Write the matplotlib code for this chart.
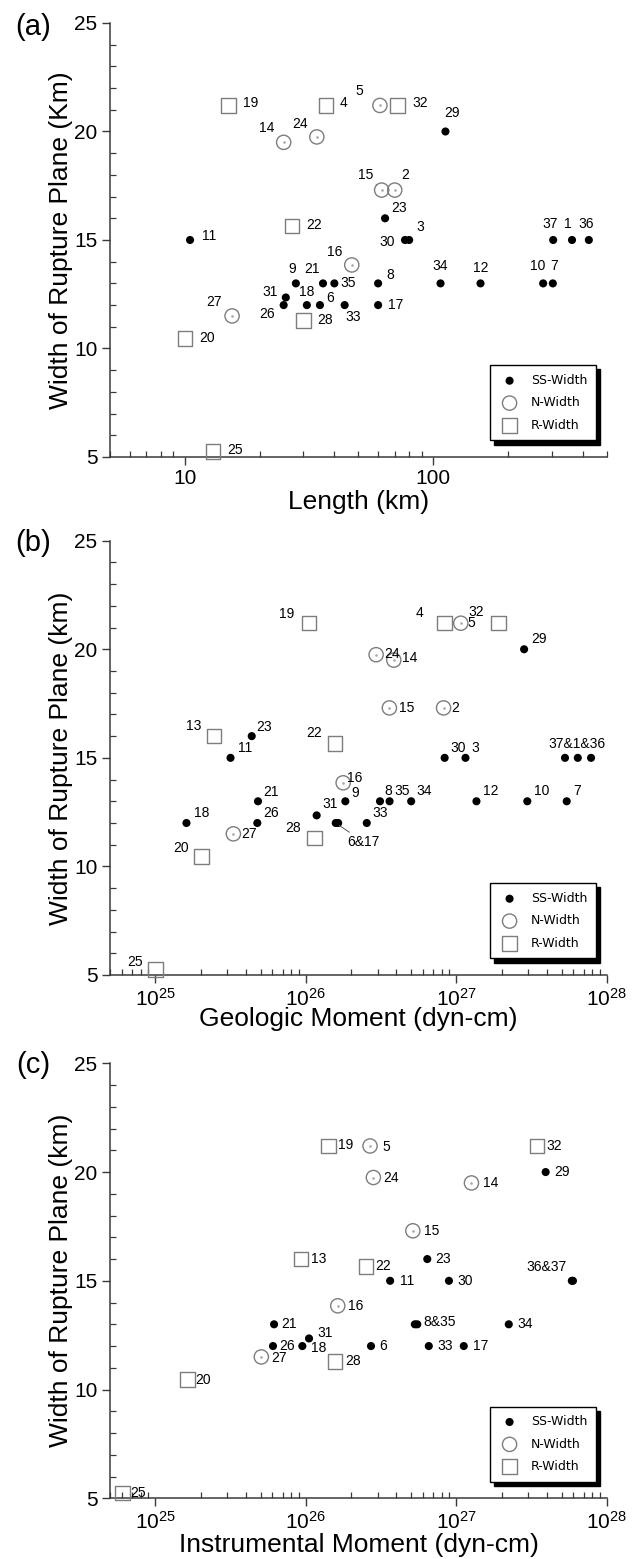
import numpy as np
import matplotlib
matplotlib.use('Agg')
import matplotlib.pyplot as plt
from matplotlib.ticker import LogLocator, MultipleLocator, FuncFormatter, NullFormatter

plt.rcParams['font.family'] = ['Liberation Sans', 'DejaVu Sans']

# event numbers by faulting type
ss_ids = [1, 3, 6, 7, 8, 9, 10, 11, 12, 17, 18, 21, 23, 26, 29, 30, 31, 33, 34, 35, 36, 37]
n_ids = [2, 5, 14, 15, 16, 24, 27]
r_ids = [4, 13, 19, 20, 22, 25, 28, 32]

# width of rupture plane (km) for events 1..37
width = [15, 17.3, 15, 21.2, 21.2, 12, 13, 13, 13, 13,
         15, 13, 16, 19.5, 17.3, 13.85, 12, 12, 21.2, 10.45,
         13, 15.65, 16, 19.75, 5.25, 12, 11.5, 11.3, 20, 15,
         12.35, 21.2, 12, 13, 13, 15, 15]

# rupture length (km), None = not plotted
length = [362, 70, 80, 37, 61, 35, 303, 60, 28, 277,
          10.5, 155, None, 25, 62, 47, 60, 31, 15, 10,
          36, 27, 64, 34, 13, 25, 15.5, 30, 112, 77,
          25.5, 72, 44, 107, 40, 423, 304]

# geologic moment (dyn-cm)
geo_moment = [6.41e27, 8.22e26, 1.15e27, 8.36e26, 1.07e27, 1.58e26, 5.41e27, 3.11e26, 1.83e26, 2.96e27,
              3.16e25, 1.36e27, 2.45e25, 3.84e26, 3.59e26, 1.77e26, 1.64e26, 1.61e25, 1.05e26, 2.03e25,
              4.81e25, 1.56e26, 4.37e25, 2.93e26, 1.0e25, 4.76e25, 3.30e25, 1.14e26, 2.82e27, 8.36e26,
              1.18e26, 1.90e27, 2.54e26, 5.01e26, 3.60e26, 7.85e27, 5.27e27]

# instrumental moment (dyn-cm)
inst_moment = [None, None, None, None, 2.67e26, 2.71e26, None, 5.3e26, None, None,
               3.63e26, None, 9.27e25, 1.26e27, 5.14e26, 1.63e26, 1.12e27, 9.48e25, 1.42e26, 1.63e25,
               6.15e25, 2.51e26, 6.41e26, 2.81e26, 6.05e24, 6.05e25, 5.06e25, 1.56e26, 3.92e27, 8.93e26,
               1.05e26, 3.44e27, 6.56e26, 2.23e27, 5.5e26, 5.85e27, 5.95e27]

# point labels: (text, event, dx, dy) offsets in pixels
labels_a = [('1', 1, -4, 16), ('2', 2, 10, 15), ('3', 3, 11, 13), ('4', 4, 18, 2), ('5', 5, -21, 14),
            ('6', 6, 10, 7), ('7', 7, 1, 17), ('8', 8, 12, 8), ('9', 9, -4, 14), ('10', 10, -5, 17),
            ('11', 11, 19, 4), ('12', 12, 0, 15), ('14', 14, -17, 14), ('16', 16, -17, 13),
            ('17', 17, 18, 0), ('18', 18, 0, 13), ('19', 19, 22, 2), ('20', 20, 22, 1), ('21', 21, -11, 14),
            ('22', 22, 22, 1), ('23', 23, 14, 10), ('24', 24, -17, 13), ('25', 25, 22, 2), ('26', 26, -17, -9),
            ('27', 27, -18, 14), ('28', 28, 22, 0), ('29', 29, 7, 18), ('30', 30, -18, -2), ('31', 31, -16, 5),
            ('32', 32, 22, 2), ('33', 33, 9, -12), ('34', 34, 0, 17), ('35', 35, 14, 0), ('36', 36, -3, 16),
            ('37', 37, -3, 16)]
labels_b = [('37&1&36', 1, -1, 14), ('2', 2, 12, 0), ('3', 3, 10, 10), ('4', 4, -25, 10), ('5', 5, 11, 0),
            ('7', 7, 10, 10), ('8', 8, 8, 10), ('9', 9, 10, 8), ('10', 10, 14, 10), ('11', 11, 15, 10),
            ('12', 12, 14, 10), ('13', 13, -20, 10), ('14', 14, 16, 2), ('15', 15, 17, 0), ('16', 16, 12, 5),
            ('18', 18, 15, 10), ('19', 19, -22, 9), ('20', 20, -21, 9), ('21', 21, 13, 9), ('22', 22, -21, 11),
            ('23', 23, 12, 9), ('24', 24, 16, 1), ('25', 25, -20, 8), ('26', 26, 14, 10), ('27', 27, 16, 0),
            ('28', 28, -21, 10), ('29', 29, 15, 10), ('30', 30, 14, 10), ('31', 31, 13, 11), ('32', 32, -22, 11),
            ('33', 33, 13, 10), ('34', 34, 13, 10), ('35', 35, 13, 10)]
labels_c = [('5', 5, 16, -1), ('6', 6, 12, 0), ('8&35', 8, 25, 2), ('11', 11, 17, 0), ('13', 13, 18, 0),
            ('14', 14, 19, 0), ('15', 15, 19, 0), ('16', 16, 18, 0), ('17', 17, 17, 0), ('18', 18, 16, -2),
            ('19', 19, 17, 1), ('20', 20, 16, 0), ('21', 21, 15, 0), ('22', 22, 17, 1), ('23', 23, 16, 0),
            ('24', 24, 18, 0), ('25', 25, 16, 0), ('26', 26, 14, 0), ('27', 27, 18, -1), ('28', 28, 18, 0),
            ('29', 29, 16, 0), ('30', 30, 16, 0), ('31', 31, 16, 5), ('32', 32, 17, 0), ('33', 33, 16, 0),
            ('34', 34, 16, 0), ('36&37', 36, -25, 14)]

grey = '#7d7d7d'
spine_c = '#3a3a3a'
styles = [
    (ss_ids, 'SS-Width', dict(marker='o', s=34, c='k', edgecolors='none')),
    (n_ids, 'N-Width', dict(marker='o', s=105, facecolors='none', edgecolors=grey, linewidths=1.0)),
    (r_ids, 'R-Width', dict(marker='s', s=110, facecolors='none', edgecolors=grey, linewidths=1.0)),
]

fig = plt.figure(figsize=(6.37, 15.59), dpi=100)
left, w = 0.1727, 0.780
ax_a = fig.add_axes([left, 0.70687, w, 0.27838])
ax_b = fig.add_axes([left, 0.37460, w, 0.27858])
ax_c = fig.add_axes([left, 0.03894, w, 0.27900])


def draw(ax, xvals, labels):
    handles = []
    for ids, name, st in styles:
        xs = [xvals[i - 1] for i in ids if xvals[i - 1] is not None]
        ys = [width[i - 1] for i in ids if xvals[i - 1] is not None]
        h = ax.scatter(xs, ys, clip_on=False, zorder=3, label=name, **st)
        handles.append(h)
        if name == 'N-Width':
            ax.scatter(xs, ys, marker='o', s=0.8, c='#aaaaaa', clip_on=False, zorder=3)
    for txt, i, dx, dy in labels:
        ax.annotate(txt, (xvals[i - 1], width[i - 1]), xytext=(dx, dy), textcoords='offset pixels',
                    ha='center', va='center', fontsize=10, zorder=4)
    ax.set_xscale('log')
    ax.set_ylim(5, 25)
    ax.yaxis.set_major_locator(MultipleLocator(5))
    ax.yaxis.set_minor_locator(MultipleLocator(1))
    ax.xaxis.set_minor_locator(LogLocator(base=10, subs=np.arange(2, 10)))
    ax.xaxis.set_minor_formatter(NullFormatter())
    for s in ['top', 'right']:
        ax.spines[s].set_visible(False)
    for s in ['left', 'bottom']:
        ax.spines[s].set_color(spine_c)
        ax.spines[s].set_linewidth(1.1)
    ax.tick_params(which='major', direction='out', length=6, width=1, color=spine_c, labelsize=15, pad=3)
    ax.tick_params(which='minor', direction='in', length=4, width=0.9, color=spine_c)
    leg = ax.legend(handles=handles, loc='lower right', bbox_to_anchor=(0.978, 0.038), borderaxespad=0,
                    frameon=True, fancybox=False, framealpha=1, edgecolor='k',
                    shadow={'color': 'k', 'alpha': 1, 'ox': 3, 'oy': -3},
                    prop={'family': 'DejaVu Sans', 'size': 9}, borderpad=0.7, labelspacing=0.75,
                    handletextpad=0.8, handlelength=1.8, scatterpoints=1)
    leg.get_frame().set_linewidth(1)
    ax.yaxis.set_label_coords(-0.0744, 0.5)
    return ax


draw(ax_a, length, labels_a)
ax_a.set_xlim(5, 500)
ax_a.xaxis.set_major_formatter(FuncFormatter(lambda v, p: '%g' % v))
ax_a.set_xlabel('Length (km)', fontsize=19)
ax_a.xaxis.set_label_coords(0.5, -0.076)
ax_a.set_ylabel('Width of Rupture Plane (Km)', fontsize=19)
# leader for 15
ax_a.annotate('15', (length[14], width[14]), xytext=(-16, 15), textcoords='offset pixels',
              ha='center', va='center', fontsize=10,
              arrowprops=dict(arrowstyle='-', lw=0.6, color='#555', shrinkA=0, shrinkB=5))

draw(ax_b, geo_moment, labels_b)
ax_b.set_xlim(5e24, 1e28)
ax_b.set_xlabel('Geologic Moment (dyn-cm)', fontsize=19)
ax_b.xaxis.set_label_coords(0.5, -0.074)
ax_b.set_ylabel('Width of Rupture Plane (km)', fontsize=19)
ax_b.annotate('6&17', (geo_moment[5], width[5]), xytext=(28, -19), textcoords='offset pixels',
              ha='center', va='center', fontsize=10,
              arrowprops=dict(arrowstyle='-', lw=0.7, color='#555', shrinkA=0, shrinkB=3))

draw(ax_c, inst_moment, labels_c)
ax_c.set_xlim(5e24, 1e28)
ax_c.set_xlabel('Instrumental Moment (dyn-cm)', fontsize=19)
ax_c.xaxis.set_label_coords(0.5, -0.08)
ax_c.set_ylabel('Width of Rupture Plane (km)', fontsize=19)

for lab, yp in [('(a)', 27), ('(b)', 543), ('(c)', 1065)]:
    fig.text(33 / 637, 1 - yp / 1559, lab, ha='center', va='center', fontsize=21)

fig.savefig('out.png', dpi=100)
